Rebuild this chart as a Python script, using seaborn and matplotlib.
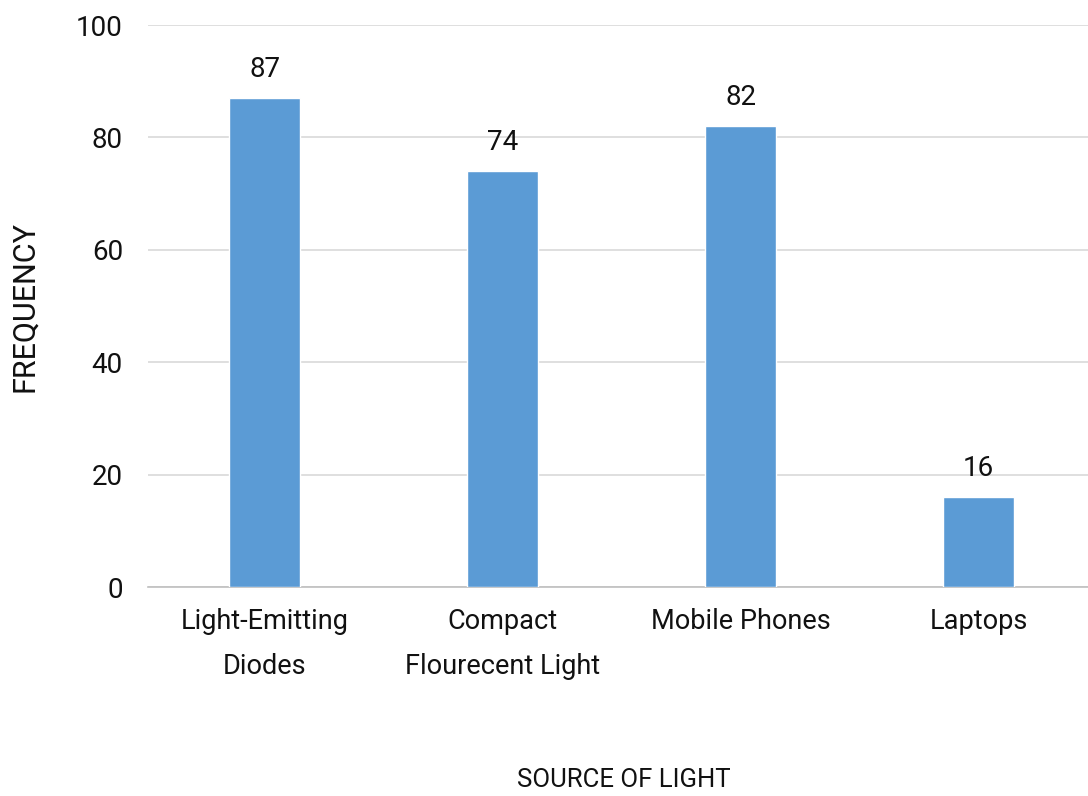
import matplotlib
matplotlib.use("Agg")
import matplotlib.pyplot as plt
import seaborn as sns
import pandas as pd
from matplotlib.ticker import FixedLocator

categories = ["Light-Emitting\nDiodes", "Compact\nFlourecent Light", "Mobile Phones", "Laptops"]
values = [87, 74, 82, 16]
yticks = [0, 20, 40, 60, 80, 100]

sns.set_theme(style="white")
plt.rcParams['font.family'] = ['Roboto', 'DejaVu Sans']

df = pd.DataFrame({"source": categories, "freq": values})

fig = plt.figure(figsize=(10.88, 7.96), dpi=100)
ax = fig.add_axes([148/1088, 1 - 587/796, (1088-148)/1088, (587-25)/796])

sns.barplot(data=df, x="source", y="freq", color="#5B9BD5", width=0.30,
            saturation=1, ax=ax, zorder=3)

ax.set_ylim(0, 100)
ax.set_xlim(-0.49, 3.46)
ax.yaxis.set_major_locator(FixedLocator(yticks))
ax.grid(axis="y", color="#D9D9D9", linewidth=1.2, zorder=0)
ax.set_axisbelow(True)

for s in ["top", "right", "left"]:
    ax.spines[s].set_visible(False)
ax.spines["bottom"].set_color("#BFBFBF")
ax.spines["bottom"].set_linewidth(1.2)

ax.tick_params(axis="y", length=0, labelsize=20, pad=18, labelcolor="#111111")
ax.tick_params(axis="x", which="major", length=0, labelsize=19.5, pad=15, labelcolor="#111111")
for lbl in ax.get_xticklabels():
    lbl.set_linespacing(1.85)
ax.xaxis.set_minor_locator(FixedLocator([-0.5, 0.5, 1.5, 2.5, 3.5]))
ax.tick_params(axis="x", which="minor", length=6, color="#BFBFBF", width=1.2)

for i, v in enumerate(values):
    ax.annotate(str(v), (i, v), xytext=(0, 11), textcoords="offset points",
                ha="center", va="bottom", fontsize=20, color="#111111")

ax.set_xlabel("SOURCE OF LIGHT", fontsize=18.5, color="#111111")
ax.xaxis.set_label_coords((624-148)/(1088-148), -(780-587)/(587-25))
ax.xaxis.label.set_va("center")
ax.set_ylabel("FREQUENCY", fontsize=22, color="#111111")
ax.yaxis.set_label_coords(-(148-25)/(1088-148), 0.5)
ax.yaxis.label.set_va("center")

fig.savefig("out.png", dpi=100)
